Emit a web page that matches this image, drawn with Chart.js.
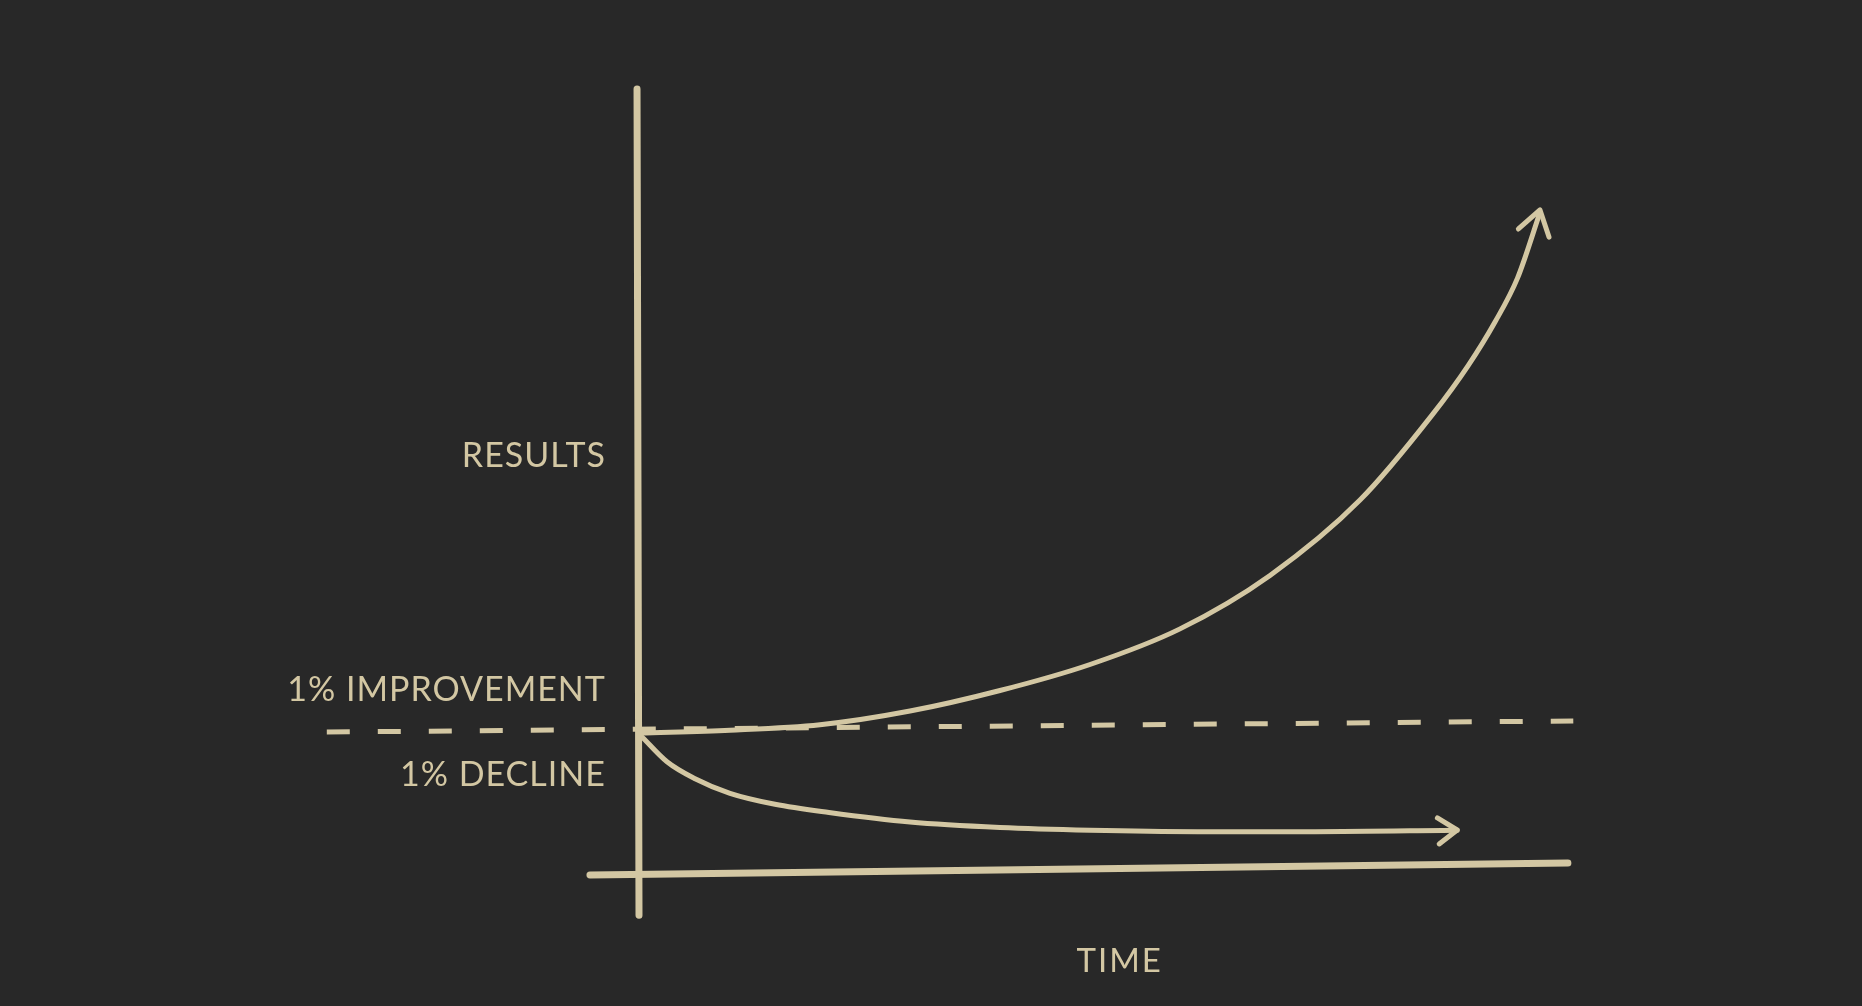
<!DOCTYPE html>
<html>
<head>
<meta charset="utf-8">
<script src="https://cdn.jsdelivr.net/npm/chart.js@4.4.1/dist/chart.umd.min.js"></script>
<style>
  html, body { margin: 0; padding: 0; background: #282828; }
  #wrap { width: 1862px; height: 1006px; position: relative; }
</style>
</head>
<body>
<div id="wrap"><canvas id="c"></canvas></div>
<script>
// ---- data (time units vs results units) ----
const improvementX = [0, 10, 20, 30, 40, 50, 60, 70, 80, 88, 92, 95, 97.5, 100];
const improvementY = [1.00, 1.02, 1.06, 1.16, 1.31, 1.50, 1.76, 2.15, 2.70, 3.32, 3.68, 4.00, 4.32, 4.80];

const declineX = [0.1, 3, 6, 10, 15, 21, 30, 40, 50, 62, 75, 90.8];
const declineY = [0.98, 0.79, 0.67, 0.56, 0.48, 0.42, 0.35, 0.31, 0.29, 0.28, 0.28, 0.29];

const improvementArrowX = [97.6, 100, 101.0];
const improvementArrowY = [4.679, 4.818, 4.620];
const declineArrowX = [88.6, 90.8, 88.8];
const declineArrowY = [0.380, 0.292, 0.190];

const baselineX = [-34.8, 103.7];
const baselineY = [1.007, 1.088];

const timeAxisX = [-5.56, 103.1];
const timeAxisY = [-0.036, 0.051];
const resultsAxisX = [-0.33, -0.11];
const resultsAxisY = [5.70, -0.33];

const yLabels = ['RESULTS', '1% IMPROVEMENT', '1% DECLINE'];
const yLabelValues = [3.025, 1.315, 0.695];
const xLabel = 'TIME';
const xLabelValue = 53.3;

// ---- helpers ----
const INK = '#d3c7a3';
const pts = (xs, ys) => xs.map((x, i) => ({ x, y: ys[i] }));
const line = (xs, ys, width, extra) => Object.assign({
  data: pts(xs, ys), showLine: true, borderColor: INK, borderWidth: width,
  pointRadius: 0, borderCapStyle: 'round', borderJoinStyle: 'round', fill: false
}, extra || {});

const labelPlugin = {
  id: 'labels',
  afterDatasetsDraw(chart) {
    const { ctx, scales: { x, y } } = chart;
    ctx.save();
    ctx.fillStyle = INK;
    ctx.font = '400 34px Lato';
    ctx.letterSpacing = '1px';
    ctx.textBaseline = 'middle';
    ctx.textAlign = 'right';
    const rx = x.getPixelForValue(-3.9) + 1;
    yLabels.forEach((t, i) => ctx.fillText(t, rx, y.getPixelForValue(yLabelValues[i])));
    ctx.textAlign = 'center';
    ctx.font = '400 33px Lato';
    ctx.letterSpacing = '2px';
    ctx.fillText(xLabel, x.getPixelForValue(xLabelValue), y.getPixelForValue(-0.665));
    ctx.restore();
  }
};

new Chart(document.getElementById('c'), {
  type: 'scatter',
  data: {
    datasets: [
      line(baselineX, baselineY, 5, { borderDash: [23, 28], borderCapStyle: 'butt' }),
      line(timeAxisX, timeAxisY, 7),
      line(resultsAxisX, resultsAxisY, 7),
      line(improvementX, improvementY, 5, { cubicInterpolationMode: 'monotone' }),
      line(improvementArrowX, improvementArrowY, 5),
      line(declineX, declineY, 5, { cubicInterpolationMode: 'monotone' }),
      line(declineArrowX, declineArrowY, 5)
    ]
  },
  options: {
    responsive: true,
    maintainAspectRatio: false,
    animation: false,
    layout: { padding: { left: 298, right: 259, top: 48, bottom: 67.5 } },
    plugins: { legend: { display: false }, tooltip: { enabled: false } },
    scales: {
      x: { type: 'linear', min: -38, max: 107, display: false },
      y: { type: 'linear', min: -0.5, max: 6, display: false }
    }
  },
  plugins: [labelPlugin]
});
</script>
</body>
</html>
